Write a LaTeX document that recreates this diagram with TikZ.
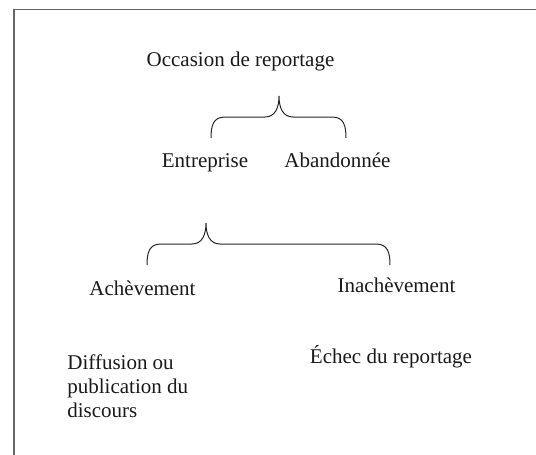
\documentclass[tikz,border=0pt]{standalone}
\usepackage{fontspec}
\setmainfont{Liberation Serif}
\usetikzlibrary{calc}
% curly joint: left end, tip, right end
\newcommand{\curlybrace}[3]{%
  \draw[brc] (#1) .. controls +(0,-12) and +(-12,0) .. ($(#1)+(14,-21)$)
    -- ($(#2)+(-14,21)$) .. controls +(10,0) and +(0,12) .. (#2)
    .. controls +(0,12) and +(-10,0) .. ($(#2)+(14,21)$)
    -- ($(#3)+(-14,-21)$) .. controls +(12,0) and +(0,-12) .. (#3);}

\begin{document}
\begin{tikzpicture}[x=0.5pt, y=-0.5pt,
  every node/.style={font=\fontsize{10.5}{12}\selectfont, inner sep=0pt, text=black!90},
  lbl/.style={anchor=base},
  brc/.style={line width=0.5pt, draw=black!85},
  frm/.style={line width=0.8pt, draw=black!60}]
\useasboundingbox (0,0) rectangle (536,455);
\draw[frm] (14,455) -- (14,9.5) -- (536,9.5);
\node[lbl] (occ) at (240.5,67) {Occasion de reportage};
\node[lbl] (ent) at (205,167) {Entreprise};
\node[lbl] (aba) at (337.5,167) {Abandonnée};
\node[lbl] (ach) at (142.5,295) {Achèvement};
\node[lbl] (inach) at (396.5,292) {Inachèvement};
\node[anchor=north west, align=left] (diff) at (67,354) {Diffusion ou\\publication du\\discours};
\node[lbl] (ech) at (391,363) {Échec du reportage};
\coordinate (b1l) at (211,138);
\coordinate (b1t) at (279,96);
\coordinate (b1r) at (346,138);
\coordinate (b2l) at (147,265);
\coordinate (b2t) at (206,223);
\coordinate (b2r) at (390,265);
\foreach \l/\t/\r in {b1l/b1t/b1r, b2l/b2t/b2r} \curlybrace{\l}{\t}{\r};
\end{tikzpicture}
\end{document}
